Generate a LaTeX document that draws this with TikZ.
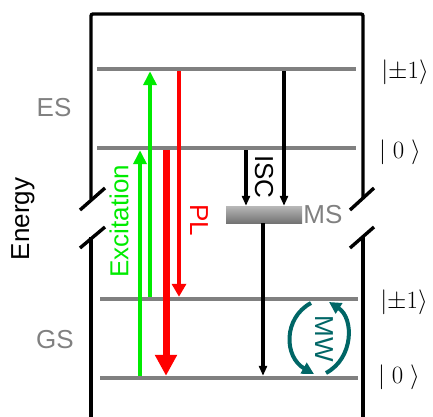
\documentclass[tikz,border=0pt]{standalone}
\usepackage{amsmath}
\usepackage{fontspec}
\setmainfont{Liberation Sans}
\usepackage{tikz}
\usetikzlibrary{arrows.meta,positioning}

\definecolor{excgreen}{RGB}{0,235,0}
\definecolor{plred}{RGB}{255,0,0}
\definecolor{mwteal}{RGB}{0,102,102}
\definecolor{lvlgray}{RGB}{128,128,128}

\begin{document}
\begin{tikzpicture}[
    x=1pt, y=-1pt,
    level/.style={fill=lvlgray, inner sep=0pt, minimum height=4pt},
    frame/.style={line width=3.4pt, rounded corners=2pt},
    brk/.style={line width=3.4pt},
    excite/.style={-{Triangle[width=13pt,length=14pt]}, line width=4pt, excgreen},
    emit/.style={-{Triangle[width=14pt,length=13pt]}, line width=4pt, plred},
    emitbig/.style={-{Triangle[width=21pt,length=21pt]}, line width=7pt, plred},
    isc/.style={-{Triangle[width=8pt,length=10pt]}, line width=3.3pt, black},
    mw/.style={-{Triangle[width=12pt,length=12pt]}, line width=4pt, mwteal},
    lab/.style={font=\fontsize{26}{30}\selectfont},
    ket/.style={font=\fontsize{28}{32}\selectfont},
    every node/.style={inner sep=1pt}
]
\useasboundingbox (0,0) rectangle (433,416);

% Frame with axis breaks
\draw[frame] (91,199) -- (91,14) -- (363,14) -- (363,199);
\draw[frame] (91,237) -- (91,420);
\draw[frame] (363,237) -- (363,420);
\draw[brk] (80,210) -- (105,188);
\draw[brk] (80,248) -- (105,227);
\draw[brk] (350,210) -- (374,188);
\draw[brk] (350,248) -- (374,227);

% Energy levels
\node[level, minimum width=259pt] (es1) at (226.5,69) {};
\node[level, minimum width=259pt] (es0) at (226.5,148) {};
\node[level, minimum width=258pt] (gs1) at (229,299) {};
\node[level, minimum width=258pt] (gs0) at (229,378) {};

% Metastable state
\node[inner sep=0pt, minimum width=76pt, minimum height=17pt,
      top color=black!28, bottom color=black!55] (ms) at (264,214.5) {};
\node[lab, text=lvlgray, right=0pt of ms] (mslab) {MS};

% Labels
\node[lab, rotate=90] (energy) at (23,219) {Energy};
\node[lab, text=lvlgray] (eslab) at (54,108) {ES};
\node[lab, text=lvlgray] (gslab) at (55,340) {GS};
\node[ket] (kes1) at (405,72) {$|{\pm}1\rangle$};
\node[ket] (kes0) at (400,152) {$|\;0\;\rangle$};
\node[ket] (kgs1) at (404,302) {$|{\pm}1\rangle$};
\node[ket] (kgs0) at (399,377) {$|\;0\;\rangle$};

% Arrow positions
\coordinate (xg0) at (140,0);
\coordinate (xg1) at (150,0);
\coordinate (xr0) at (166,0);
\coordinate (xr1) at (179,0);
\coordinate (xi0) at (246,0);
\coordinate (xi1) at (284,0);
\coordinate (xd) at (263,0);

% Optical transitions
\draw[excite] (xg0 |- gs0.north) -- (xg0 |- es0.south);
\draw[excite] (xg1 |- gs1.north) -- (xg1 |- es1.south);
\draw[emitbig] (xr0 |- es0.south) -- (xr0 |- gs0.north);
\draw[emit] (xr1 |- es1.south) -- (xr1 |- gs1.north);
\node[lab, text=excgreen, rotate=90] (exlab) at (119,221) {Excitation};
\node[lab, text=plred, rotate=-90] (pllab) at (199,220) {PL};

% Intersystem crossing
\draw[isc] (xi0 |- es0.south) -- (xi0 |- ms.north);
\draw[isc] (xi1 |- es1.south) -- (xi1 |- ms.north);
\draw[isc] (xd |- ms.south) -- (xd |- gs0.north);
\node[lab, rotate=-90] (isclab) at (264,177) {ISC};

% Microwave drive
\coordinate (mwa) at (311,303);
\coordinate (mwb) at (314,374);
\coordinate (mwc) at (326,373);
\coordinate (mwd) at (329,302);
\draw[mw] (mwa) .. controls (283,318) and (284,357) .. (mwb);
\draw[mw] (mwc) .. controls (354,358) and (354,318) .. (mwd);
\node[lab, text=mwteal, rotate=-90] (mwlab) at (324,339) {MW};

\end{tikzpicture}
\end{document}
